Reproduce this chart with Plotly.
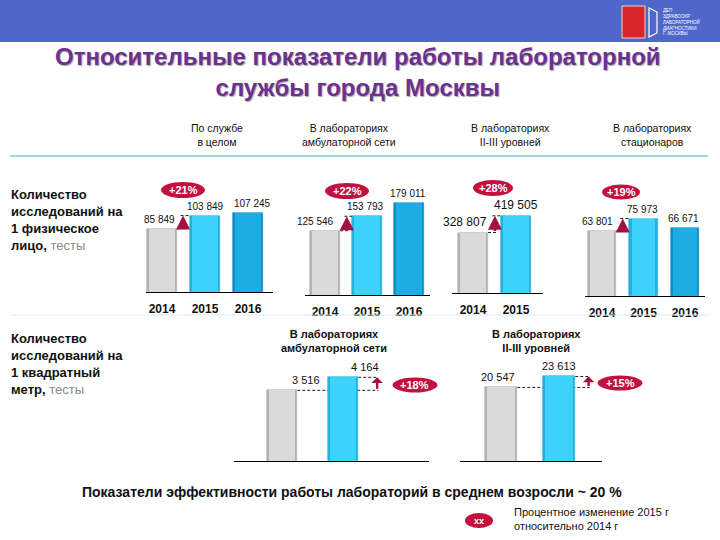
import plotly.graph_objects as go

# ---------------- data ----------------
years = ["2014", "2015", "2016"]
service_total = [85849, 103849, 107245]          # По службе в целом
ambulatory = [125546, 153793, 179011]            # амбулаторная сеть
level_2_3 = [328807, 419505]                     # II-III уровней
hospital = [63801, 75973, 66671]                 # стационары
ambulatory_m2 = [3516, 4164]                     # на 1 кв. метр, амбулаторная сеть
level_2_3_m2 = [20547, 23613]                    # на 1 кв. метр, II-III уровней

col_headers = ["По службе<br>в целом", "В лабораториях<br>амбулаторной сети",
               "В лабораториях<br>II-III уровней", "В лабораториях<br>стационаров"]
row2_headers = ["В лабораториях<br>амбулаторной сети", "В лабораториях<br>II-III уровней"]

W, H = 720, 540
def px(x): return x / W
def py(y): return 1 - y / H

GRAY, GRAY_E = "#DADADA", "#B2B2B2"
CYAN, CYAN_E = "#3CD2FA", "#28AEDC"
BLUE, BLUE_E = "#1CADE4", "#108CC4"
BADGE = "#C3103E"
ARROW = "#A3123F"
fills = [GRAY, CYAN, BLUE]
edges = [GRAY_E, CYAN_E, BLUE_E]

# layout parameters for each panel (pixel geometry)
panels = [
    dict(vals=service_total, c0=162, sp=43, x0=146, x1=273, base=292, scale=0.000736, bw=0.70,
         lshift=[-3, 0, 4], fs=10, badge=(183, 190, 44, 16), arrow=0.49, dash_end=0.55, ticks=True, thick=True),
    dict(vals=ambulatory, c0=325, sp=42, x0=305, x1=430, base=295, scale=0.000512, bw=0.72,
         lshift=[-10, -2, -1], fs=10, badge=(347, 191, 44, 16), arrow=0.52, dash_end=0.60, ticks=True, thick=True),
    dict(vals=level_2_3, c0=473, sp=43, x0=452, x1=543, base=293, scale=0.000184, bw=0.70,
         lshift=[-8, 0], fs=12, badge=(493, 188, 40, 16), arrow=0.51, dash_end=0.58, ticks=True, thick=True),
    dict(vals=hospital, c0=602, sp=41.5, x0=585, x1=705, base=296, scale=0.00102, bw=0.68,
         lshift=[-5, -1, -2], fs=10, badge=(621, 192, 38, 15), arrow=0.50, dash_end=0.56, ticks=True, thick=True),
    dict(vals=ambulatory_m2, c0=282, sp=61, x0=234, x1=429, base=461, scale=0.0201, bw=0.50,
         lshift=[24, 22], fs=11, badge=(415, 385, 45, 15), arrow=1.56, dash_end=1.58, ticks=False, thick=False),
    dict(vals=level_2_3_m2, c0=501, sp=58, x0=460, x1=602, base=461, scale=0.00358, bw=0.56,
         lshift=[-3, 0], fs=11, badge=(620, 383, 45, 15), arrow=1.51, dash_end=1.53, ticks=False, thick=False),
]

fig = go.Figure()
shapes, annos = [], []
TOP_PX = 110
DASH = "3px,2px"

def note(x, y, text, size, color="#111", xanchor="center", align="center", **kw):
    annos.append(dict(x=px(x), y=py(y), xref="paper", yref="paper", text=text, showarrow=False,
                      xanchor=xanchor, yanchor="middle", align=align,
                      font=dict(family="Arial", size=size, color=color, **kw)))

for i, p in enumerate(panels, start=1):
    xa, ya = f"x{i}", f"y{i}"
    n = len(p["vals"])
    cats = years[:n]
    # outer (shaded edge) and inner (lit face) bars give a bevelled look
    fig.add_trace(go.Bar(
        x=cats, y=p["vals"], xaxis=xa, yaxis=ya, width=p["bw"],
        marker=dict(color=edges[:n], line=dict(color=edges[:n], width=0.6)),
        showlegend=False, hoverinfo="skip"))
    fig.add_trace(go.Bar(
        x=cats, y=p["vals"], xaxis=xa, yaxis=ya, width=p["bw"] * 0.84,
        marker=dict(color=fills[:n], line=dict(width=0)),
        showlegend=False, hoverinfo="skip"))
    key = "" if i == 1 else str(i)
    fig.layout["xaxis" + key] = dict(
        domain=[px(p["x0"]), px(p["x1"])], anchor=ya, type="category",
        range=[(p["x0"] - p["c0"]) / p["sp"], (p["x1"] - p["c0"]) / p["sp"]],
        showline=True, linecolor="#000", linewidth=1.2, showgrid=False, zeroline=False,
        showticklabels=p["ticks"], ticks="", ticklabelstandoff=5,
        tickfont=dict(family="Arial", size=12, color="#111", weight="bold"), fixedrange=True)
    fig.layout["yaxis" + key] = dict(
        domain=[py(p["base"]), py(p["base"] - TOP_PX)], anchor=xa,
        range=[0, TOP_PX / p["scale"]], visible=False, fixedrange=True)

    # value labels
    for k, v in enumerate(p["vals"]):
        annos.append(dict(x=k, y=v, xref=xa, yref=ya, text=f"{v:,}".replace(",", " "),
                          showarrow=False, xanchor="center", yanchor="bottom", yshift=2, xshift=p["lshift"][k],
                          font=dict(family="Arial", size=p["fs"], color="#111")))
    v0, v1 = p["vals"][0], p["vals"][1]
    hb = p["bw"] / 2
    # dashed guide lines
    if p["thick"]:
        shapes.append(dict(type="line", xref=xa, yref=ya, x0=hb, x1=p["dash_end"], y0=v0, y1=v0,
                           line=dict(color="#222", width=1, dash=DASH)))
        shapes.append(dict(type="line", xref=xa, yref=ya, x0=p["arrow"] - 0.06, x1=1 - hb, y0=v1, y1=v1,
                           line=dict(color="#222", width=1, dash=DASH)))
    else:
        shapes.append(dict(type="line", xref=xa, yref=ya, x0=hb, x1=p["dash_end"], y0=v0, y1=v0,
                           line=dict(color="#222", width=1, dash=DASH), layer="below"))
        shapes.append(dict(type="line", xref=xa, yref=ya, x0=1 + hb, x1=p["dash_end"], y0=v1, y1=v1,
                           line=dict(color="#222", width=1, dash=DASH)))
    # growth arrow
    annos.append(dict(x=p["arrow"], y=v1, ax=p["arrow"], ay=v0, xref=xa, yref=ya, axref=xa, ayref=ya,
                      text="", showarrow=True, arrowhead=2 if p["thick"] else 1,
                      arrowsize=1.0 if p["thick"] else 0.8, arrowwidth=2.8 if p["thick"] else 2.4,
                      arrowcolor=ARROW, standoff=0))
    # badge
    bx, by, bw_, bh_ = p["badge"]
    shapes.append(dict(type="circle", xref="paper", yref="paper",
                       x0=px(bx - bw_ / 2), x1=px(bx + bw_ / 2), y0=py(by + bh_ / 2), y1=py(by - bh_ / 2),
                       fillcolor=BADGE, line=dict(width=0)))
    pct = round((v1 / v0 - 1) * 100)
    note(bx, by, f"<b>+{pct}%</b>", 11, color="white")

# banner and logo
shapes.append(dict(type="rect", xref="paper", yref="paper", x0=0, x1=1, y0=py(42), y1=1,
                   fillcolor="#4E67C8", line=dict(width=0), layer="below"))
shapes.append(dict(type="rect", xref="paper", yref="paper", x0=px(622), x1=px(645), y0=py(38), y1=py(6),
                   fillcolor="#D8262C", line=dict(color="#F4D0C0", width=1)))
shapes.append(dict(type="path", xref="paper", yref="paper",
                   path=f"M {px(649)},{py(8)} L {px(649)},{py(37)} L {px(657)},{py(33)} L {px(657)},{py(12)} Z",
                   fillcolor="rgba(0,0,0,0)", line=dict(color="white", width=1.2)))
note(661, 22, "ДЕП<br>ЗДРАВООХР<br>ЛАБОРАТОРНОЙ<br>ДИАГНОСТИКИ<br>Г. МОСКВЫ", 4.5, color="white",
     xanchor="left", align="left")

# title
note(358, 72, "<b>Относительные показатели работы лабораторной<br>службы города Москвы</b>", 24,
     color="#6B3090", shadow="1px 1px 1px rgba(0,0,0,0.35)")

# column headers
for cx, t in zip([217, 349, 510, 652], col_headers):
    note(cx, 135, t, 10.5)
for cx, t in zip([334, 536], row2_headers):
    note(cx, 341, f"<b>{t}</b>", 11)

# separator lines
shapes.append(dict(type="line", xref="paper", yref="paper", x0=px(10), x1=px(708), y0=py(156), y1=py(156),
                   line=dict(color="#79CCD8", width=1.5)))
shapes.append(dict(type="line", xref="paper", yref="paper", x0=px(10), x1=px(708), y0=py(315), y1=py(315),
                   line=dict(color="#D6F0F4", width=1.2)))

# row labels
note(9, 220, "<b>Количество<br>исследований на<br>1 физическое<br>лицо,</b> <span style='color:#8a8a8a'>тесты</span>",
     13, xanchor="left", align="left")
note(9, 364, "<b>Количество<br>исследований на<br>1 квадратный<br>метр,</b> <span style='color:#8a8a8a'>тесты</span>",
     13, xanchor="left", align="left")

# conclusion and legend
note(352, 492, "<b>Показатели эффективности работы лабораторий в среднем возросли ~ 20 %</b>", 14)
shapes.append(dict(type="circle", xref="paper", yref="paper", x0=px(465), x1=px(493), y0=py(528), y1=py(513),
                   fillcolor=BADGE, line=dict(width=0)))
note(479, 520.5, "<b>хх</b>", 9, color="white")
note(512, 519, "Процентное изменение 2015 г<br>относительно 2014 г", 11, xanchor="left", align="left")

fig.update_layout(width=W, height=H, margin=dict(l=0, r=0, t=0, b=0),
                  paper_bgcolor="white", plot_bgcolor="rgba(0,0,0,0)",
                  shapes=shapes, annotations=annos, barmode="overlay", bargap=0)
fig.write_html("out.html", config={"displayModeBar": False},
               post_script="document.body.style.margin='0';")
